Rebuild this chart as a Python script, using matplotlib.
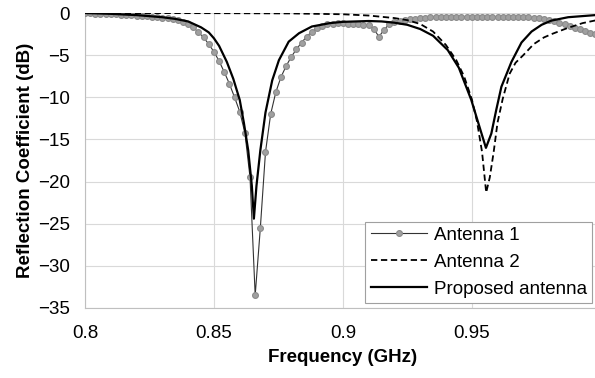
import numpy as np
import matplotlib.pyplot as plt

plt.rcParams['font.family'] = ['Liberation Sans', 'DejaVu Sans']

# Antenna 1 (sampled every 2 MHz, 0.800 ... 1.000 GHz)
freq_a1 = np.round(np.arange(0.800, 1.0001, 0.002), 3)
s11_a1 = [0.0, -0.05, -0.08, -0.1, -0.12, -0.15, -0.17, -0.2, -0.22, -0.25,
          -0.3, -0.33, -0.37, -0.42, -0.48, -0.55, -0.65, -0.75, -0.88, -1.03,
          -1.25, -1.7, -2.3, -2.9, -3.7, -4.6, -5.7, -7.0, -8.4, -10.0,
          -11.7, -14.2, -19.5, -33.5, -25.5, -16.5, -12.0, -9.4, -7.6, -6.3,
          -5.2, -4.3, -3.5, -2.8, -2.2, -1.8, -1.5, -1.35, -1.25, -1.2,
          -1.2, -1.25, -1.3, -1.35, -1.4, -1.45, -1.9, -2.8, -2.0, -1.3,
          -1.05, -0.9, -0.8, -0.75, -0.68, -0.62, -0.55, -0.5, -0.47, -0.45,
          -0.44, -0.43, -0.42, -0.42, -0.42, -0.42, -0.42, -0.42, -0.43, -0.43,
          -0.44, -0.45, -0.45, -0.44, -0.45, -0.45, -0.5, -0.55, -0.62, -0.72,
          -0.85, -1.0, -1.15, -1.35, -1.55, -1.75, -1.95, -2.15, -2.35, -2.5,
          -2.65]

# Antenna 2
freq_a2 = [0.80, 0.85, 0.88, 0.90, 0.91, 0.92, 0.925, 0.93, 0.935, 0.94,
           0.944, 0.947, 0.950, 0.952, 0.954, 0.9556, 0.957, 0.9585, 0.960, 0.962,
           0.9647, 0.967, 0.970, 0.974, 0.978, 0.981, 0.987, 0.993, 1.0]
s11_a2 = [0.0, -0.02, -0.05, -0.15, -0.3, -0.6, -0.85, -1.3, -2.2, -3.8,
          -5.6, -7.5, -10.2, -12.8, -16.5, -21.3, -19.5, -16.5, -13.0, -10.2,
          -7.2, -5.9, -5.0, -3.7, -2.9, -2.5, -1.8, -1.2, -0.75]

# Proposed antenna
freq_p = [0.80, 0.81, 0.82, 0.83, 0.835, 0.84, 0.845, 0.848, 0.85, 0.852,
          0.855, 0.8575, 0.86, 0.8616, 0.8633, 0.8647, 0.8655, 0.8665, 0.868, 0.870,
          0.8726, 0.8752, 0.879, 0.883, 0.888, 0.895, 0.90, 0.91, 0.915, 0.92,
          0.925, 0.93, 0.935, 0.9407, 0.945, 0.9498, 0.953, 0.9555, 0.9576, 0.9595,
          0.9615, 0.9654, 0.9693, 0.9732, 0.9771, 0.9809, 0.9874, 1.0]
s11_p = [0.0, -0.1, -0.25, -0.5, -0.7, -1.0, -1.7, -2.3, -3.0, -3.9,
         -5.8, -7.8, -10.3, -13.0, -16.3, -20.5, -24.4, -20.5, -16.3, -11.8,
         -8.0, -5.6, -3.4, -2.4, -1.6, -1.2, -1.05, -0.95, -1.0, -1.15,
         -1.4, -1.9, -2.7, -4.4, -6.5, -10.3, -13.5, -16.0, -14.3, -11.5,
         -8.75, -5.8, -3.5, -2.2, -1.4, -0.9, -0.5, -0.2]

fig = plt.figure(figsize=(5.95, 3.78), dpi=100)
ax = fig.add_axes([0.1429, 0.1852, 0.8666, 0.7804])

ax.plot(freq_a1, s11_a1, color='#333333', linewidth=0.8, marker='o',
        markersize=4.2, markerfacecolor='#a0a0a0', markeredgecolor='#8a8a8a',
        markeredgewidth=0.8, label='Antenna 1', zorder=3)
ax.plot(freq_a2, s11_a2, color='black', linewidth=1.3, linestyle=(0, (3.5, 2)),
        label='Antenna 2', zorder=4)
ax.plot(freq_p, s11_p, color='black', linewidth=1.6, label='Proposed antenna', zorder=5)

ax.set_xlim(0.8, 1.0)
ax.set_ylim(-35, 0)
ax.set_xticks([0.8, 0.85, 0.9, 0.95, 1.0])
ax.set_xticklabels(['0.8', '0.85', '0.9', '0.95', '1'])
ax.set_yticks(range(-35, 1, 5))

ax.grid(True, color='#d9d9d9', linewidth=0.8)
ax.set_axisbelow(True)
for side in ['top', 'right']:
    ax.spines[side].set_visible(False)
for side in ['left', 'bottom']:
    ax.spines[side].set_color('#bfbfbf')
ax.tick_params(length=0, labelsize=13.5)
ax.tick_params(axis='x', pad=12)
ax.tick_params(axis='y', pad=11)

ax.set_xlabel('Frequency (GHz)', fontsize=13.5, fontweight='bold', labelpad=5)
ax.set_ylabel('Reflection Coefficient (dB)', fontsize=13.5, fontweight='bold', labelpad=3)

leg = ax.legend(loc='lower right', bbox_to_anchor=(0.983, 0.017), fontsize=13.5,
                fancybox=False, framealpha=1, edgecolor='#a0a0a0',
                handlelength=3.0, handletextpad=0.35, borderpad=0.28,
                labelspacing=0.52, borderaxespad=0.0)
leg.get_frame().set_linewidth(0.8)

fig.savefig('out.png', dpi=100)
